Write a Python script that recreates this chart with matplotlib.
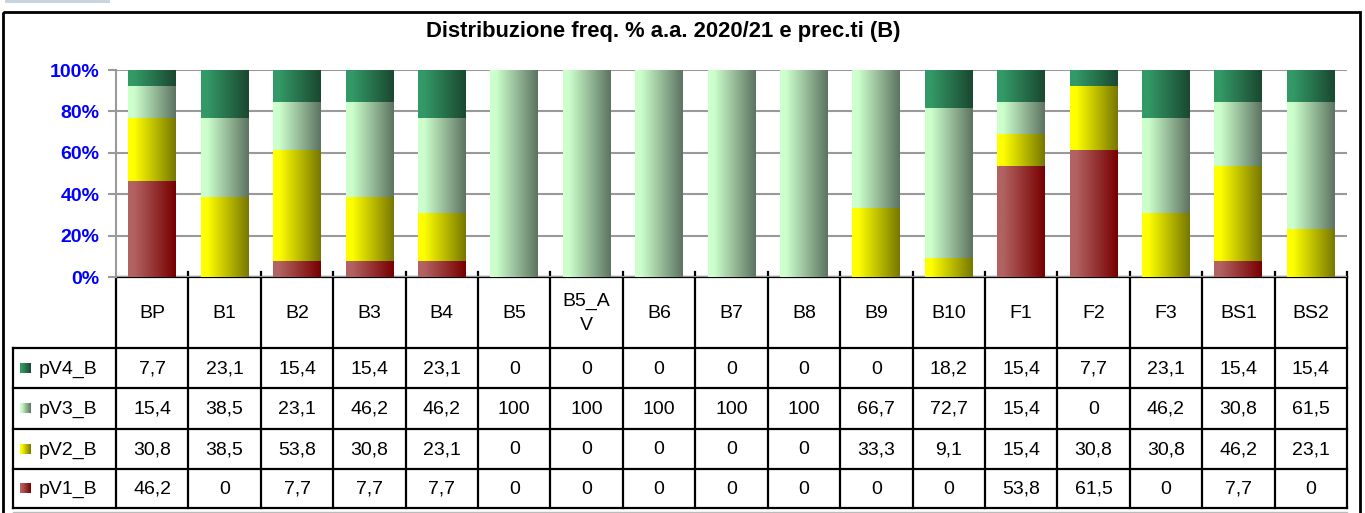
import numpy as np
import matplotlib
matplotlib.use("Agg")
import matplotlib.pyplot as plt
from matplotlib.colors import LinearSegmentedColormap
from matplotlib.patches import Rectangle

plt.rcParams['font.family'] = ['Liberation Sans', 'DejaVu Sans']

categories = ["BP", "B1", "B2", "B3", "B4", "B5", "B5_AV", "B6", "B7", "B8",
              "B9", "B10", "F1", "F2", "F3", "BS1", "BS2"]
header_labels = ["BP", "B1", "B2", "B3", "B4", "B5", "B5_A\nV", "B6", "B7", "B8",
                 "B9", "B10", "F1", "F2", "F3", "BS1", "BS2"]

pV1_B = [46.2, 0, 7.7, 7.7, 7.7, 0, 0, 0, 0, 0, 0, 0, 53.8, 61.5, 0, 7.7, 0]
pV2_B = [30.8, 38.5, 53.8, 30.8, 23.1, 0, 0, 0, 0, 0, 33.3, 9.1, 15.4, 30.8, 30.8, 46.2, 23.1]
pV3_B = [15.4, 38.5, 23.1, 46.2, 46.2, 100, 100, 100, 100, 100, 66.7, 72.7, 15.4, 0, 46.2, 30.8, 61.5]
pV4_B = [7.7, 23.1, 15.4, 15.4, 23.1, 0, 0, 0, 0, 0, 0, 18.2, 15.4, 7.7, 23.1, 15.4, 15.4]

series_names = ["pV1_B", "pV2_B", "pV3_B", "pV4_B"]
series_vals = [pV1_B, pV2_B, pV3_B, pV4_B]
series_cols = [("#B26262", "#780000"), ("#FFFF00", "#787800"),
               ("#CCFFCC", "#5E7462"), ("#339966", "#1A4830")]

title = "Distribuzione freq. % a.a. 2020/21 e prec.ti (B)"

W, H = 1365, 513
fig = plt.figure(figsize=(W / 100, H / 100), dpi=100)

# pixel layout
x0, x1 = 116, 1347
y_top, y_bot = 70, 277
n = len(categories)
colw = (x1 - x0) / n
fs = 14

def fx(px):
    return px / W

def fy(py):
    return 1 - py / H

# background overlay axes in pixel coords
bg = fig.add_axes([0, 0, 1, 1])
bg.set_xlim(0, W)
bg.set_ylim(H, 0)
bg.axis("off")
bg.add_patch(Rectangle((5, 0), 105, 3, color="#C8D4DE", lw=0))
bg.add_patch(Rectangle((3, 12), 1357, 520, fill=False, ec="black", lw=2))
bg.text(663, 32, title, ha="center", va="center", fontsize=15.8, fontweight="bold")

ax = fig.add_axes([fx(x0), fy(y_bot), fx(x1 - x0), (y_bot - y_top) / H])
ax.set_xlim(-0.5, n - 0.5)
ax.set_ylim(0, 100)
ax.set_facecolor("none")
for s in ["top", "right", "bottom"]:
    ax.spines[s].set_visible(False)
ax.spines["left"].set_color("#999999")
ax.spines["left"].set_linewidth(1.5)
ax.set_yticks(np.arange(0, 101, 20))
ax.set_yticklabels([f"{v}%" for v in range(0, 101, 20)], color="#0000FF",
                   fontweight="bold", fontsize=fs)
ax.tick_params(axis="y", length=6, width=1.5, color="#999999", pad=6)
ax.set_xticks([])
ax.grid(axis="y", color="#999999", lw=1.5, zorder=0)
ax.set_axisbelow(True)

grad = np.clip((np.linspace(0, 1, 64) - 0.12) / 0.88, 0, 1).reshape(1, -1)
bw = 0.66
totals = np.sum(series_vals, axis=0)
bottom = np.zeros(n)
for name, vals, (c0, c1) in zip(series_names, series_vals, series_cols):
    cmap = LinearSegmentedColormap.from_list(name, [c0, c1])
    pct = np.array(vals) / totals * 100
    for i in range(n):
        if pct[i] <= 0:
            continue
        ax.imshow(grad, cmap=cmap, aspect="auto", interpolation="bilinear",
                  extent=[i - bw / 2, i + bw / 2, bottom[i], bottom[i] + pct[i]],
                  zorder=2, vmin=0, vmax=1)
    bottom += pct
ax.set_xlim(-0.5, n - 0.5)
ax.set_ylim(0, 100)

# data table
row_h = [348, 388, 429, 469, 508]
tbl_left = 13
lw = 1.6
bg.plot([x0, x1], [y_bot, y_bot], color="black", lw=lw)
for k in range(n + 1):
    xb = x0 + k * colw
    bg.plot([xb, xb], [y_bot, row_h[-1]], color="black", lw=lw)
    if 0 < k:
        bg.plot([xb, xb], [y_bot, y_bot - 5], color="black", lw=lw)
for yy in row_h:
    bg.plot([tbl_left, x1], [yy, yy], color="black", lw=lw)
bg.plot([tbl_left, tbl_left], [row_h[0], row_h[-1]], color="black", lw=lw)
bg.plot([tbl_left, x1], [row_h[-1] + 4, row_h[-1] + 4], color="#BBBBBB", lw=1)

for i, lab in enumerate(header_labels):
    bg.text(x0 + (i + 0.5) * colw, (y_bot + row_h[0]) / 2 + 1, lab, ha="center",
            va="center", fontsize=fs, linespacing=1.6)

def fmt(v):
    if float(v).is_integer():
        return str(int(v))
    return f"{v:.1f}".replace(".", ",")

table_rows = list(zip(series_names, series_vals, series_cols))[::-1]
for r, (name, vals, (c0, c1)) in enumerate(table_rows):
    yc = (row_h[r] + row_h[r + 1]) / 2
    cmap = LinearSegmentedColormap.from_list(name + "k", [c0, c1])
    bg.imshow(grad, cmap=cmap, aspect="auto", interpolation="bilinear",
              extent=[20, 31, yc + 5, yc - 5], vmin=0, vmax=1)
    bg.text(39, yc + 1, name, ha="left", va="center", fontsize=fs)
    for i, v in enumerate(vals):
        bg.text(x0 + (i + 0.5) * colw, yc + 1, fmt(v), ha="center", va="center",
                fontsize=fs)
bg.set_xlim(0, W)
bg.set_ylim(H, 0)

fig.savefig("out.png", dpi=100)
